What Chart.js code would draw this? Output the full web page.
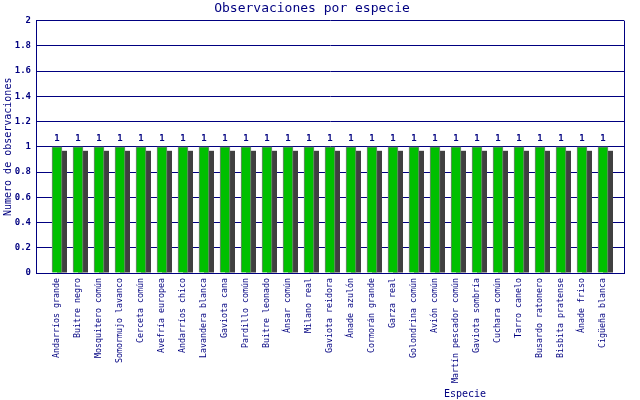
<!DOCTYPE html>
<html>
<head>
<meta charset="utf-8">
<title>Observaciones por especie</title>
<script src="https://cdn.jsdelivr.net/npm/chart.js@4/dist/chart.umd.min.js"></script>
<style>
  html, body { margin: 0; padding: 0; background: #fff; }
  canvas { display: block; }
</style>
</head>
<body>
<canvas id="speciesChart" width="640" height="400"></canvas>
<script>
// Chart data
const species = [
  'Andarríos grande', 'Buitre negro', 'Mosquitero común', 'Somormujo lavanco',
  'Cerceta común', 'Avefría europea', 'Andarríos chico', 'Lavandera blanca',
  'Gaviota cana', 'Pardillo común', 'Buitre leonado', 'Ánsar común',
  'Milano real', 'Gaviota reidora', 'Ánade azulón', 'Cormorán grande',
  'Garza real', 'Golondrina común', 'Avión común', 'Martín pescador común',
  'Gaviota sombría', 'Cuchara común', 'Tarro canelo', 'Busardo ratonero',
  'Bisbita pratense', 'Ánade friso', 'Cigüeña blanca'
];
const counts = [1, 1, 1, 1, 1, 1, 1, 1, 1, 1, 1, 1, 1, 1, 1, 1, 1, 1, 1, 1, 1, 1, 1, 1, 1, 1, 1];
const yTicks = [0, 0.2, 0.4, 0.6, 0.8, 1, 1.2, 1.4, 1.6, 1.8, 2];

const NAVY = '#000080';
const MONO = "'DejaVu Sans Mono', 'Liberation Mono', monospace";

// dark drop shadow behind each bar
const barShadow = {
  id: 'barShadow',
  beforeDatasetDraw(chart, args) {
    const ctx = chart.ctx;
    ctx.save();
    ctx.fillStyle = '#404040';
    args.meta.data.forEach(bar => {
      const p = bar.getProps(['x', 'y', 'base', 'width'], true);
      const top = p.y + 4;
      if (p.base > top) ctx.fillRect(p.x - p.width / 2 + 5, top, p.width, p.base - top);
    });
    ctx.restore();
  }
};

// value labels, right border and x axis title
const extras = {
  id: 'extras',
  afterDatasetsDraw(chart) {
    const ctx = chart.ctx;
    const area = chart.chartArea;
    const meta = chart.getDatasetMeta(0);
    ctx.save();
    ctx.fillStyle = NAVY;
    ctx.font = 'bold 9px ' + MONO;
    ctx.textAlign = 'center';
    ctx.textBaseline = 'bottom';
    meta.data.forEach((bar, i) => {
      ctx.fillText(String(counts[i]), bar.x, bar.y - 4);
    });

    ctx.strokeStyle = NAVY;
    ctx.lineWidth = 1;
    ctx.beginPath();
    ctx.moveTo(Math.round(area.right) + 0.5, area.top);
    ctx.lineTo(Math.round(area.right) + 0.5, area.bottom);
    ctx.stroke();

    ctx.font = '10px ' + MONO;
    ctx.textBaseline = 'middle';
    ctx.fillText('Especie', 465, 394);
    ctx.restore();
  }
};

const ctx = document.getElementById('speciesChart').getContext('2d');

new Chart(ctx, {
  type: 'bar',
  data: {
    datasets: [{
      label: 'Observaciones',
      data: counts.map((c, i) => ({ x: i, y: c })),
      backgroundColor: '#00c000',
      borderColor: '#808080',
      borderWidth: 1,
      barThickness: 10
    }]
  },
  options: {
    responsive: false,
    animation: false,
    devicePixelRatio: 1,
    layout: { padding: { top: 0, right: 16, bottom: 0, left: 0 } },
    plugins: {
      legend: { display: false },
      tooltip: { enabled: false },
      title: {
        display: true,
        text: 'Observaciones por especie',
        color: NAVY,
        font: { family: MONO, size: 13, weight: 'normal' },
        padding: { top: 1, bottom: 4 }
      }
    },
    scales: {
      x: {
        type: 'linear',
        min: -1,
        max: 27,
        offset: false,
        afterBuildTicks: scale => { scale.ticks = species.map((s, i) => ({ value: i })); },
        afterFit: scale => { scale.height = 127; },
        grid: { display: false, drawTicks: false },
        border: { color: NAVY, width: 1 },
        ticks: {
          autoSkip: false,
          maxRotation: 90,
          minRotation: 90,
          padding: 5,
          color: NAVY,
          font: { family: MONO, size: 8.3 },
          callback: value => species[value] || ''
        }
      },
      y: {
        min: 0,
        max: 2,
        afterBuildTicks: scale => { scale.ticks = yTicks.map(v => ({ value: v })); },
        afterFit: scale => { scale.width = 36; },
        grid: { color: NAVY, lineWidth: 1, drawTicks: false },
        border: { color: NAVY, width: 1 },
        ticks: {
          padding: 5,
          color: NAVY,
          font: { family: MONO, size: 9, weight: 'bold' },
          callback: value => String(+value.toFixed(1))
        },
        title: {
          display: true,
          text: 'Numero de observaciones',
          color: NAVY,
          font: { family: MONO, size: 10 },
          padding: { top: 2, bottom: 0 }
        }
      }
    }
  },
  plugins: [barShadow, extras]
});
</script>
</body>
</html>
